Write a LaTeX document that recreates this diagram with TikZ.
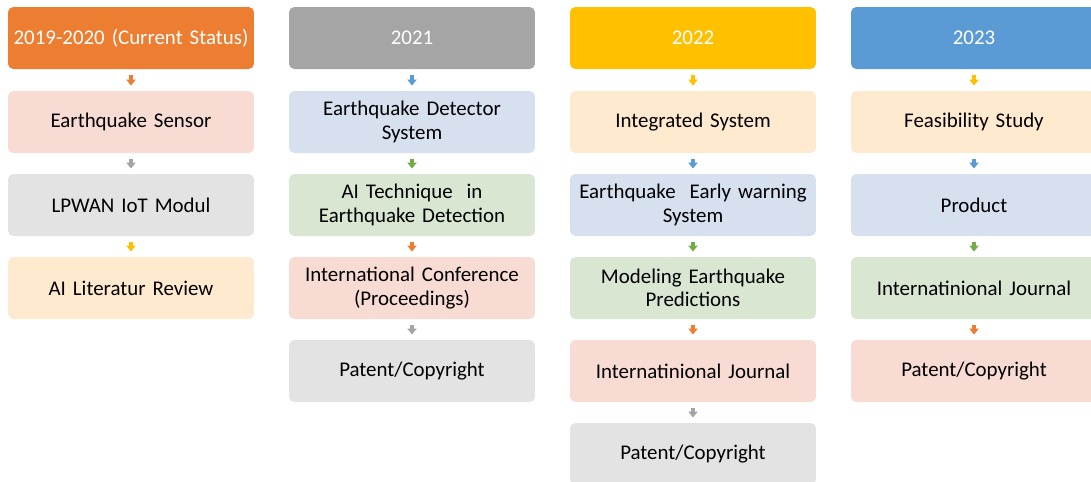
\documentclass[tikz,border=0pt]{standalone}
\usepackage{fontspec}
\setmainfont{Carlito}
\usepackage{xcolor}
\usepackage{tikz}
\usetikzlibrary{arrows.meta, positioning}
\definecolor{hOrange}{HTML}{ED7D31}
\definecolor{hGray}{HTML}{A5A5A5}
\definecolor{hGold}{HTML}{FFC000}
\definecolor{hBlue}{HTML}{5B9BD5}
\definecolor{hGreen}{HTML}{70AD47}
\definecolor{fPink}{HTML}{F8DBD2}
\definecolor{fGray}{HTML}{E3E3E3}
\definecolor{fCream}{HTML}{FFE9CF}
\definecolor{fBlue}{HTML}{D6E0EF}
\definecolor{fGreen}{HTML}{D9E6D2}
\tikzset{
    base_box/.style={
        rectangle, rounded corners=3pt, minimum width=4.92cm, minimum height=1.24cm,
        inner xsep=1pt, align=center, text width=4.8cm, draw=none,
        font=\fontsize{11.9}{13.4}\selectfont
    },
    header/.style={base_box, fill=#1, text=white},
    box_pink/.style={base_box, fill=fPink},
    box_gray/.style={base_box, fill=fGray},
    box_cream/.style={base_box, fill=fCream},
    box_blue/.style={base_box, fill=fBlue},
    box_green/.style={base_box, fill=fGreen},
    arrow/.style={
        line width=2.8pt, -{Triangle[length=3.4pt, width=5.2pt]}, draw=#1,
        shorten <=3.2pt, shorten >=2.9pt
    }
}
\begin{document}
\begin{tikzpicture}[x=0.02cm, y=-0.02cm]
    \useasboundingbox (0,0) rectangle (1091,481);
    \clip (0,0) rectangle (1091,481);
    % 2019-2020
    \node[header=hOrange] (h1) at (131,38) {2019-2020 (Current Status)};
    \node[box_pink] (a1) at (131,122) {Earthquake Sensor};
    \node[box_gray] (a2) at (131,205) {LPWAN IoT Modul};
    \node[box_cream] (a3) at (131,288) {AI Literatur Review};
    \draw[arrow=hOrange] (h1) -- (a1);
    \draw[arrow=hGray] (a1) -- (a2);
    \draw[arrow=hGold] (a2) -- (a3);

    % 2021
    \node[header=hGray] (h2) at (412,38) {2021};
    \node[box_blue] (b1) at (412,122) {Earthquake Detector\\System};
    \node[box_green] (b2) at (412,205) {AI Technique\ \ in\\Earthquake Detection};
    \node[box_pink] (b3) at (412,288) {International Conference\\(Proceedings)};
    \node[box_gray] (b4) at (412,371) {Patent/Copyright};
    \draw[arrow=hBlue] (h2) -- (b1);
    \draw[arrow=hGreen] (b1) -- (b2);
    \draw[arrow=hOrange] (b2) -- (b3);
    \draw[arrow=hGray] (b3) -- (b4);

    % 2022
    \node[header=hGold] (h3) at (693,38) {2022};
    \node[box_cream] (c1) at (693,122) {Integrated System};
    \node[box_blue] (c2) at (693,205) {Earthquake\ \ Early warning\\System};
    \node[box_green] (c3) at (693,288) {Modeling Earthquake\\Predictions};
    \node[box_pink] (c4) at (693,371) {Internatinional Journal};
    \node[box_gray] (c5) at (693,454) {Patent/Copyright};
    \draw[arrow=hGold] (h3) -- (c1);
    \draw[arrow=hBlue] (c1) -- (c2);
    \draw[arrow=hGreen] (c2) -- (c3);
    \draw[arrow=hOrange] (c3) -- (c4);
    \draw[arrow=hGray] (c4) -- (c5);

    % 2023
    \node[header=hBlue] (h4) at (974,38) {2023};
    \node[box_cream] (d1) at (974,122) {Feasibility Study};
    \node[box_blue] (d2) at (974,205) {Product};
    \node[box_green] (d3) at (974,288) {Internatinional Journal};
    \node[box_pink] (d4) at (974,371) {Patent/Copyright};
    \draw[arrow=hGold] (h4) -- (d1);
    \draw[arrow=hBlue] (d1) -- (d2);
    \draw[arrow=hGreen] (d2) -- (d3);
    \draw[arrow=hOrange] (d3) -- (d4);
\end{tikzpicture}
\end{document}
